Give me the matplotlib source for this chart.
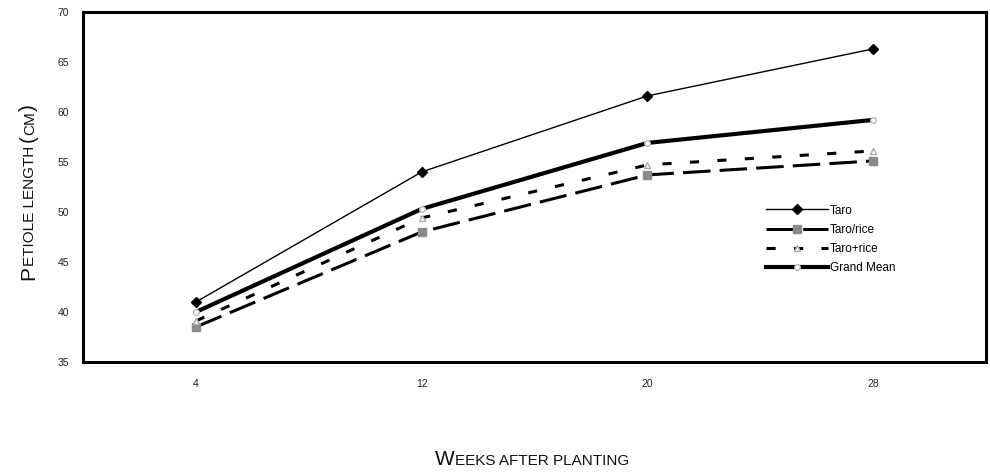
#plot.py


#COMMENT: Imports.

import numpy as np;
import matplotlib;
matplotlib.use('Agg');
import matplotlib.pyplot as plt;


#COMMENT: Data.

weeks = ['4', '12', '20', '28'];
taro = [41.0, 54.0, 61.6, 66.3];
taro_slash_rice = [38.5, 48.0, 53.7, 55.1];
taro_plus_rice = [39.1, 49.4, 54.7, 56.1];
grand_mean = [40.0, 50.3, 56.9, 59.2];

y_ticks = [35, 40, 45, 50, 55, 60, 65, 70];

plt.rcParams['font.family'] = ['Liberation Sans', 'DejaVu Sans'];


#COMMENT: Figure and axes.

fig = plt.figure(figsize = (9.9, 4.75), dpi = 100);
ax = fig.add_axes([0.084, 0.238, 0.912, 0.737]);

x = np.arange(len(weeks));

ax.plot(x, taro, color = 'black', linewidth = 1.0, marker = 'D', markersize = 5,
        markerfacecolor = 'black', markeredgecolor = 'black', label = 'Taro');
ax.plot(x, taro_slash_rice, color = 'black', linewidth = 2.2, dashes = (9, 3),
        marker = 's', markersize = 6, markerfacecolor = '#8a8a8a', markeredgecolor = '#8a8a8a',
        label = 'Taro/rice');
ax.plot(x, taro_plus_rice, color = 'black', linewidth = 2.2, dashes = (3, 6),
        marker = '^', markersize = 5, markerfacecolor = 'white', markeredgecolor = '#aaaaaa',
        label = 'Taro+rice');
ax.plot(x, grand_mean, color = 'black', linewidth = 3.0,
        marker = 'o', markersize = 4, markerfacecolor = 'white', markeredgecolor = '#bbbbbb',
        label = 'Grand Mean');

ax.set_xlim(-0.5, len(weeks) - 0.5);
ax.set_ylim(35, 70);
ax.set_xticks(x);
ax.set_xticklabels(weeks);
ax.set_yticks(y_ticks);
ax.tick_params(axis = 'both', length = 0, labelsize = 7.5, colors = '#222222');
ax.tick_params(axis = 'x', pad = 12);
ax.tick_params(axis = 'y', pad = 10);
for spine in ax.spines.values():
    spine.set_linewidth(2.2);

leg = ax.legend(loc = 'upper left', bbox_to_anchor = (0.745, 0.48), frameon = False,
                fontsize = 8.5, handlelength = 5.2, handletextpad = 0.2, labelspacing = 0.62);


#COMMENT: Small-caps style axis titles, built from pieces of two sizes.

def small_caps(parts, x0, y0, vertical):
    texts = [];
    for s, size in parts:
        t = fig.text(0, 0, s, fontsize = size, transform = None, ha = 'left', va = 'baseline',
                     rotation = 90 if vertical else 0, rotation_mode = 'anchor', color = '#111111');
        texts.append(t);
    fig.canvas.draw();
    r = fig.canvas.get_renderer();
    lengths = [];
    for t in texts:
        bb = t.get_window_extent(r);
        lengths.append(bb.height if vertical else bb.width);
    total = sum(lengths);
    pos = -total / 2.0;
    for t, l in zip(texts, lengths):
        if vertical:
            t.set_position((x0, y0 + pos));
        else:
            t.set_position((x0 + pos, y0));
        pos += l;

small_caps([('W', 15), ('EEKS AFTER PLANTING', 11)], 532, 475 - 465, False);
small_caps([('P', 15), ('ETIOLE LENGTH ', 11), ('(', 15), ('CM', 11), (')', 15)], 34, 475 - 192, True);


#COMMENT: Save the image and clean up.

plt.savefig('out.png', dpi = 100);
plt.close();
